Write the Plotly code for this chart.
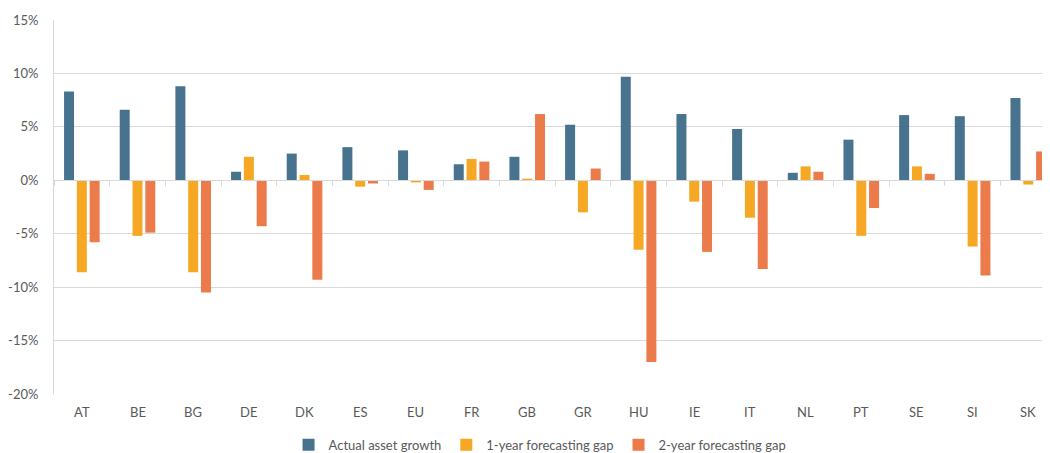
import plotly.graph_objects as go

# Data (values in %)
countries = ["AT", "BE", "BG", "DE", "DK", "ES", "EU", "FR", "GB",
             "GR", "HU", "IE", "IT", "NL", "PT", "SE", "SI", "SK"]
actual_growth = [8.3, 6.6, 8.8, 0.8, 2.5, 3.1, 2.8, 1.5, 2.2,
                 5.2, 9.7, 6.2, 4.8, 0.7, 3.8, 6.1, 6.0, 7.7]
gap_1y = [-8.6, -5.2, -8.6, 2.2, 0.5, -0.6, -0.2, 2.0, 0.15,
          -3.0, -6.5, -2.0, -3.5, 1.3, -5.2, 1.3, -6.2, -0.4]
gap_2y = [-5.8, -4.9, -10.5, -4.3, -9.3, -0.3, -0.9, 1.75, 6.2,
          1.1, -17.0, -6.7, -8.3, 0.8, -2.6, 0.6, -8.9, 2.7]

y_tickvals = [15, 10, 5, 0, -5, -10, -15, -20]
y_ticktext = ["15%", "10%", "5%", "0%", "-5%", "-10%", "-15%", "-20%"]

BLUE = "#48738F"
YELLOW = "#F6A724"
ORANGE = "#EB7B4B"
GRID = "#D9D9D9"
TEXT = "#595959"
FONT = "Lato, 'Open Sans', sans-serif"
Y_RANGE = [-20, 15]

fig = go.Figure()
for name, vals, col in [
    ("Actual asset growth", actual_growth, BLUE),
    ("1-year forecasting gap", gap_1y, YELLOW),
    ("2-year forecasting gap", gap_2y, ORANGE),
]:
    fig.add_trace(go.Bar(x=countries, y=vals, name=name, marker=dict(color=col, line=dict(width=0))))

# category labels sit at the bottom, while the x axis itself runs along 0%
for c in countries:
    fig.add_annotation(
        x=c, y=0, xref="x", yref="paper", yanchor="middle", yshift=-18,
        text=c, showarrow=False, font=dict(size=13, color=TEXT),
    )

# page body has an 8px default margin, so margins are shifted by 8px
fig.update_layout(
    width=1050,
    height=453,
    margin=dict(l=46, r=8, t=12, b=67, autoexpand=False),
    plot_bgcolor="white",
    paper_bgcolor="white",
    barmode="group",
    bargap=0.31,
    bargroupgap=0.22,
    font=dict(family=FONT, size=13, color=TEXT),
    xaxis=dict(
        type="category",
        range=[-0.5, 17.39],
        anchor="free",
        position=-Y_RANGE[0] / (Y_RANGE[1] - Y_RANGE[0]),
        showgrid=False,
        zeroline=False,
        showline=True,
        linecolor=GRID,
        linewidth=1,
        showticklabels=False,
        ticks="outside",
        tickson="boundaries",
        ticklen=5,
        tickcolor=GRID,
        tickwidth=1,
        automargin=False,
    ),
    yaxis=dict(
        range=Y_RANGE,
        tickvals=y_tickvals,
        ticktext=y_ticktext,
        showgrid=True,
        gridcolor=GRID,
        gridwidth=1,
        zeroline=True,
        zerolinecolor=GRID,
        zerolinewidth=1,
        showline=True,
        linecolor=GRID,
        linewidth=1,
        ticks="",
        ticklabelstandoff=12,
        automargin=False,
        tickfont=dict(size=13, color=TEXT),
    ),
    legend=dict(
        orientation="h",
        x=0.488,
        xanchor="center",
        y=-0.136,
        yanchor="middle",
        font=dict(size=13, color=TEXT),
        itemwidth=30,
        traceorder="normal",
    ),
)

fig.write_html("out.html")
